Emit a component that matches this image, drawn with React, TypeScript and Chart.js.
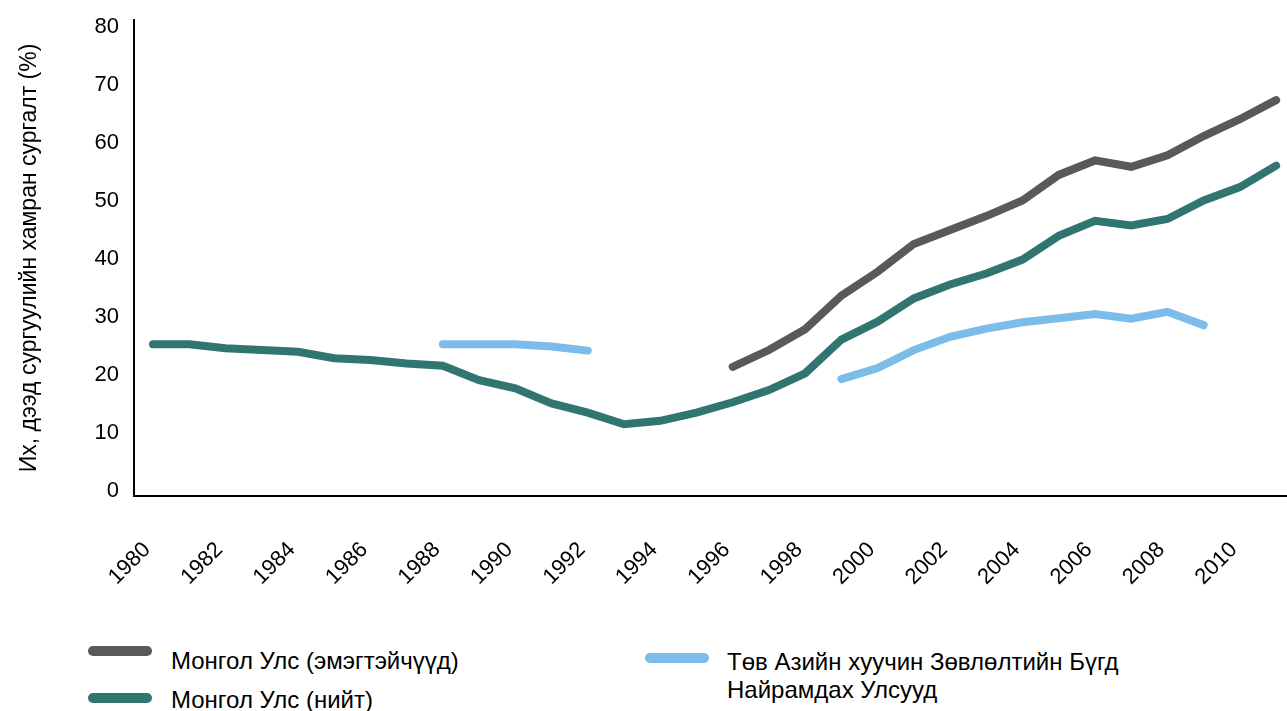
import React, { useEffect, useRef } from "react";
import { Chart, registerables } from "chart.js";

Chart.register(...registerables);

// ---- Data ----
const years = [
  1980, 1981, 1982, 1983, 1984, 1985, 1986, 1987, 1988, 1989, 1990, 1991, 1992, 1993, 1994, 1995,
  1996, 1997, 1998, 1999, 2000, 2001, 2002, 2003, 2004, 2005, 2006, 2007, 2008, 2009, 2010, 2011,
];
const tickYears = [1980, 1982, 1984, 1986, 1988, 1990, 1992, 1994, 1996, 1998, 2000, 2002, 2004, 2006, 2008, 2010];
const yTickValues = [0, 10, 20, 30, 40, 50, 60, 70, 80];

const seriesNames = [
  "Монгол Улс (эмэгтэйчүүд)",
  "Монгол Улс (нийт)",
  "Төв Азийн хуучин Зөвлөлтийн Бүгд Найрамдах Улсууд",
];
const seriesColors = ["#58595b", "#317571", "#7bbde8"];

const mongoliaWomen: (number | null)[] = [
  null, null, null, null, null, null, null, null, null, null, null, null, null, null, null, null,
  21.4, 24.3, 27.9, 33.7, 37.8, 42.6, 45.0, 47.4, 50.1, 54.5, 57.0, 55.9, 57.9, 61.2, 64.1, 67.4,
];
const mongoliaTotal: (number | null)[] = [
  25.3, 25.3, 24.6, 24.3, 24.0, 22.9, 22.6, 22.0, 21.6, 19.1, 17.7, 15.1, 13.5, 11.5, 12.1, 13.5,
  15.3, 17.4, 20.3, 26.1, 29.2, 33.2, 35.6, 37.5, 39.9, 44.0, 46.6, 45.8, 46.9, 50.1, 52.4, 56.1,
];
const centralAsia: (number | null)[] = [
  null, null, null, null, null, null, null, null, 25.3, 25.3, 25.3, 24.9, 24.2, null, null, null,
  null, null, null, 19.3, 21.2, 24.3, 26.6, 28.0, 29.1, 29.8, 30.5, 29.7, 30.9, 28.6, null, null,
];

const yAxisTitle = "Их, дээд сургуулийн хамран сургалт (%)";

// ---- Layout constants ----
const W = 1287;
const H = 600;
const FONT = "'Liberation Sans', Arial, Helvetica, sans-serif";

const toPoints = (vals: (number | null)[]) => years.map((x, i) => ({ x, y: vals[i] }));

export default function App() {
  const ref = useRef<HTMLCanvasElement | null>(null);

  useEffect(() => {
    if (!ref.current) return;
    const mk = (i: number, vals: (number | null)[]) => ({
      label: seriesNames[i],
      data: toPoints(vals),
      borderColor: seriesColors[i],
      backgroundColor: seriesColors[i],
      borderWidth: 8,
      borderCapStyle: "round" as const,
      borderJoinStyle: "miter" as const,
      pointRadius: 0,
      pointHoverRadius: 0,
      tension: 0,
      spanGaps: false,
      fill: false,
    });
    const chart = new Chart(ref.current, {
      type: "line",
      data: {
        datasets: [mk(2, centralAsia), mk(1, mongoliaTotal), mk(0, mongoliaWomen)],
      },
      options: {
        animation: false,
        responsive: false,
        devicePixelRatio: 1,
        layout: { padding: { top: 20, left: 0, right: 0, bottom: 0 } },
        plugins: { legend: { display: false }, tooltip: { enabled: false } },
        scales: {
          x: {
            type: "linear",
            min: 1979.475,
            max: 2011.3,
            grid: { display: false, drawTicks: false },
            border: { display: true, color: "#000", width: 2 },
            ticks: {
              color: "#000",
              font: { family: FONT, size: 22 },
              minRotation: 45,
              maxRotation: 45,
              padding: 41,
              labelOffset: -6,
              autoSkip: false,
              callback: (v: any) => String(v),
            },
            afterBuildTicks: (s: any) => {
              s.ticks = tickYears.map((v) => ({ value: v }));
            },
            afterFit: (s: any) => {
              s.height = H - 496;
              s.paddingLeft = 0;
              s.paddingRight = 0;
            },
          },
          y: {
            type: "linear",
            min: -0.862,
            max: 81.21,
            grid: { display: false, drawTicks: false },
            border: { display: true, color: "#000", width: 2 },
            ticks: {
              color: "#000",
              font: { family: FONT, size: 22 },
              padding: 15,
              includeBounds: false,
              callback: (v: any) => String(v),
            },
            afterBuildTicks: (s: any) => {
              s.ticks = yTickValues.map((v) => ({ value: v }));
            },
            title: {
              display: true,
              text: yAxisTitle,
              color: "#000",
              font: { family: FONT, size: 23 },
              padding: { top: 16, bottom: 0 },
            },
            afterFit: (s: any) => {
              s.width = 134;
              s.paddingTop = 0;
              s.paddingBottom = 0;
            },
          },
        },
      },
    });
    return () => chart.destroy();
  }, []);

  const swatch = (color: string, left: number, top: number) => (
    <div
      style={{
        position: "absolute",
        left,
        top: top - 5,
        width: 64,
        height: 10,
        borderRadius: 5,
        background: color,
      }}
    />
  );
  const text = (s: string, left: number, top: number) => (
    <div
      style={{
        position: "absolute",
        left,
        top: top - 14,
        fontFamily: FONT,
        fontSize: 24,
        lineHeight: "28px",
        color: "#000",
        whiteSpace: "nowrap",
      }}
    >
      {s}
    </div>
  );

  return (
    <div style={{ position: "absolute", left: 0, top: 0, width: W, height: 711, background: "#fff" }}>
      <canvas ref={ref} width={W} height={H} style={{ position: "absolute", left: 0, top: 0, width: W, height: H }} />
      {swatch(seriesColors[0], 88, 651)}
      {text(seriesNames[0], 171, 661)}
      {swatch(seriesColors[1], 88, 698)}
      {text(seriesNames[1], 171, 700)}
      {swatch(seriesColors[2], 645, 658)}
      <div
        style={{
          position: "absolute",
          left: 727,
          top: 662 - 14,
          fontFamily: FONT,
          fontSize: 24,
          lineHeight: "28px",
          color: "#000",
          width: 440,
        }}
      >
        Төв Азийн хуучин Зөвлөлтийн Бүгд
        <br />
        Найрамдах Улсууд
      </div>
    </div>
  );
}
